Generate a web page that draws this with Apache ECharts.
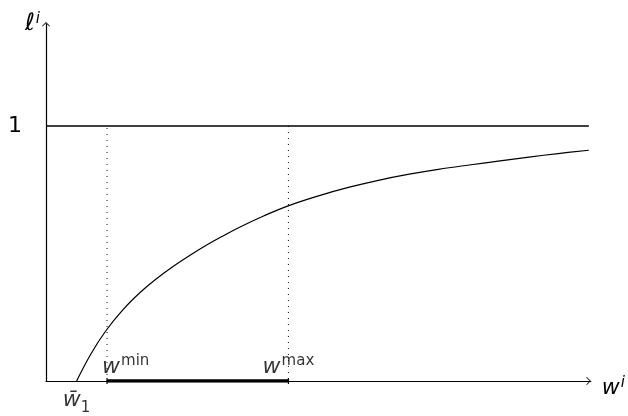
<!DOCTYPE html>
<html>
<head>
<meta charset="utf-8">
<script src="https://cdn.jsdelivr.net/npm/echarts@6/dist/echarts.min.js"></script>
<style>
  html, body { margin: 0; padding: 0; background: #fff; }
  #chart { width: 628px; height: 416px; }
</style>
</head>
<body>
<div id="chart"></div>
<script>
// Curve ℓ^i(w^i): starts at zero at w̄1 and rises toward the level 1
const curveW = [0.562, 0.824, 1.099, 1.410, 1.722, 2.015, 2.326, 2.637, 2.949, 3.242,
                3.553, 3.993, 4.432, 5.000, 5.568, 6.100, 6.667, 7.200, 7.766, 8.300,
                8.864, 9.400, 9.963];
const curveL = [0.000, 0.106, 0.197, 0.279, 0.346, 0.399, 0.448, 0.492, 0.533, 0.568,
                0.603, 0.647, 0.686, 0.726, 0.760, 0.787, 0.811, 0.830, 0.847, 0.862,
                0.878, 0.892, 0.905];

// Marked wage levels on the horizontal axis
const wBar1 = 0.562;
const wMin = 1.12;
const wMax = 4.45;

// Upper bound of ℓ^i and where its guide line stops
const levelOne = 1;
const levelEnd = 9.963;
const yTickLabels = [1];

const ink = '#000';
const mathFont = 'DejaVu Sans';
const chevron = 'path://M0,5 L5,0 L10,5 L9.3,5.7 L5,1.4 L0.7,5.7 Z';

const rich = {
  w:   { fontFamily: mathFont, fontStyle: 'italic', fontSize: 22, color: ink, verticalAlign: 'bottom' },
  wb:  { fontFamily: mathFont, fontStyle: 'italic', fontSize: 22, color: ink, verticalAlign: 'bottom', padding: [0, 0, 5, 0] },
  l:   { fontFamily: mathFont, fontStyle: 'italic', fontSize: 24, color: ink, verticalAlign: 'bottom' },
  sup: { fontFamily: mathFont, fontSize: 15, color: ink, verticalAlign: 'bottom', padding: [0, 0, 9, 1] },
  supi:{ fontFamily: mathFont, fontStyle: 'italic', fontSize: 15, color: ink, verticalAlign: 'bottom', padding: [0, 0, 9, 1] },
  sub: { fontFamily: mathFont, fontSize: 15, color: ink, verticalAlign: 'bottom' }
};

const curveData = curveW.map((w, i) => [w, curveL[i]]);

const chart = echarts.init(document.getElementById('chart'), null, { renderer: 'canvas' });

chart.setOption({
  animation: false,
  backgroundColor: '#fff',
  grid: { left: 46, right: 36, top: 24, bottom: 35 },
  xAxis: {
    type: 'value',
    min: 0,
    max: 10,
    splitLine: { show: false },
    axisTick: { show: false },
    axisLabel: { show: false },
    axisLine: {
      show: true,
      onZero: false,
      symbol: ['none', chevron],
      symbolSize: [8, 4.6],
      symbolOffset: [0, -2.3],
      lineStyle: { color: ink, width: 1.2 }
    },
    name: '{w|w}{supi|i}',
    nameLocation: 'end',
    nameGap: 11,
    nameTextStyle: { rich: rich, padding: [13, 0, 0, 0] }
  },
  yAxis: {
    type: 'value',
    min: 0,
    max: 1.4,
    interval: 1,
    splitLine: { show: false },
    axisTick: { show: false },
    axisLabel: {
      show: true,
      margin: 24,
      fontFamily: mathFont,
      fontSize: 22,
      color: ink,
      formatter: (v) => (yTickLabels.some(t => Math.abs(t - v) < 1e-9) ? String(v) : '')
    },
    axisLine: {
      show: true,
      onZero: false,
      symbol: ['none', chevron],
      symbolSize: [8, 4.6],
      symbolOffset: [0, -0.3],
      lineStyle: { color: ink, width: 1.2 }
    },
    name: '{l|ℓ}{supi|i}',
    nameLocation: 'end',
    nameGap: -12,
    nameTextStyle: { rich: rich, align: 'right', padding: [0, 6, 0, 0] }
  },
  series: [
    {
      // level ℓ = 1
      type: 'line',
      data: [[0, levelOne], [levelEnd, levelOne]],
      showSymbol: false,
      lineStyle: { color: ink, width: 1.3 },
      silent: true,
      z: 3
    },
    {
      // dotted guides at w^min and w^max
      type: 'line',
      data: [[wMin, 0], [wMin, levelOne], ['-', '-'], [wMax, levelOne], [wMax, 0]],
      connectNulls: false,
      showSymbol: false,
      lineStyle: { color: '#222', width: 1.1, type: [1, 5] },
      silent: true,
      z: 2
    },
    {
      // interval [w^min, w^max]
      type: 'line',
      data: [[wMin, 0], [wMax, 0]],
      showSymbol: true,
      symbol: 'rect',
      symbolSize: [1.2, 6],
      itemStyle: { color: ink },
      lineStyle: { color: ink, width: 3.6 },
      silent: true,
      z: 4
    },
    {
      // ℓ^i as a function of w^i
      type: 'line',
      data: curveData,
      smooth: 0.4,
      showSymbol: false,
      lineStyle: { color: ink, width: 1.2 },
      silent: true,
      z: 5
    },
    {
      // labels of the marked wage levels
      type: 'scatter',
      symbolSize: 0,
      silent: true,
      z: 6,
      data: [
        {
          value: [wMin, 0],
          label: { show: true, color: ink, formatter: '{w|w}{sup|min}', rich: rich, position: [-5, -3], align: 'left', verticalAlign: 'bottom' }
        },
        {
          value: [wMax, 0],
          label: { show: true, color: ink, formatter: '{w|w}{sup|max}', rich: rich, position: [0, -3], align: 'center', verticalAlign: 'bottom' }
        },
        {
          value: [wBar1, 0],
          label: { show: true, color: ink, formatter: '{wb|w\u0304}{sub|1}', rich: rich, position: [0, 8], align: 'center', verticalAlign: 'top' }
        }
      ]
    }
  ]
});
</script>
</body>
</html>
